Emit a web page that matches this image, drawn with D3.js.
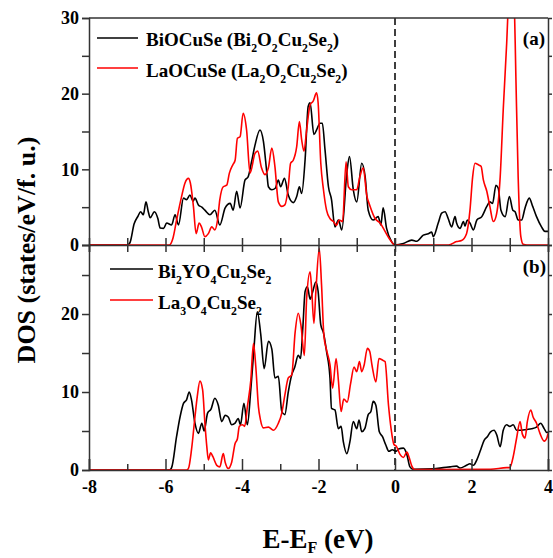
<!DOCTYPE html>
<html>
<head>
<meta charset="utf-8">
<script src="https://cdn.jsdelivr.net/npm/d3@7"></script>
<style>
  body { margin: 0; background: #fff; }
  text { font-family: "Liberation Serif", "Times New Roman", serif; font-weight: bold; fill: #000; }
</style>
</head>
<body>
<div id="plot"></div>
<script>
// ---- data (energy in eV, DOS in states/eV/f.u.) ----
var labelsA = ["BiOCuSe (Bi2O2Cu2Se2)", "LaOCuSe (La2O2Cu2Se2)"];
var labelsB = ["Bi2YO4Cu2Se2", "La3O4Cu2Se2"];
var xTicks = [-8, -6, -4, -2, 0, 2, 4];
var yTicksA = [0, 10, 20, 30];
var yTicksB = [0, 10, 20];

var eBiOCuSe = [-8,-7.0,-6.93,-6.82,-6.72,-6.65,-6.58,-6.51,-6.45,-6.4,-6.29,-6.2,-6.14,-6.05,-5.97,-5.84,-5.75,-5.66,-5.53,-5.45,-5.36,-5.28,-5.23,-5.14,-5.05,-4.97,-4.84,-4.71,-4.58,-4.44,-4.31,-4.23,-4.14,-4.05,-3.92,-3.84,-3.75,-3.66,-3.53,-3.44,-3.35,-3.31,-3.22,-3.13,-3.05,-2.99,-2.89,-2.79,-2.66,-2.57,-2.5,-2.44,-2.35,-2.27,-2.22,-2.12,-2.05,-1.96,-1.9,-1.83,-1.74,-1.66,-1.57,-1.48,-1.39,-1.26,-1.19,-1.09,-1.0,-0.87,-0.78,-0.7,-0.57,-0.44,-0.37,-0.31,-0.22,-0.09,0,0.22,0.44,0.57,0.74,0.87,0.96,1.0,1.13,1.22,1.31,1.39,1.48,1.57,1.61,1.7,1.79,1.83,1.89,1.96,2.05,2.14,2.27,2.4,2.48,2.55,2.64,2.7,2.77,2.88,2.99,3.08,3.14,3.22,3.31,3.4,3.51,3.6,3.7,3.83,3.92,4.0];
var dBiOCuSe = [0,0,0.3,2.8,3.8,4.4,4.0,5.7,4.4,3.6,4.4,3.5,2.25,2.2,2.9,2.65,4.0,2.65,6.2,6.0,6.6,5.8,6.2,5.3,5.0,4.6,4.0,4.6,2.65,4.9,5.5,4.6,7.1,4.9,8.6,9.0,11.0,13.2,15.2,13.7,9.5,7.7,7.3,7.5,8.6,7.7,8.8,6.6,5.6,6.4,7.7,6.8,11.3,18.3,18.8,14.6,15.2,16.1,16.1,12.6,7.7,6.0,2.4,3.3,2.0,9.5,11.7,7.3,5.7,10.8,9.0,4.6,3.3,3.75,2.65,4.9,2.2,0.45,0,0.2,0.65,0.5,1.3,1.5,1.7,1.1,2.9,4.2,4.4,3.5,2.4,3.75,2.9,2.2,3.1,2.5,3.3,2.9,2.0,3.3,3.75,5.1,5.7,5.5,7.9,7.5,4.6,3.75,6.4,4.6,4.4,3.3,3.3,4.9,6.2,5.1,3.75,2.4,1.8,1.8];

var eLaOCuSe = [-8,-5.9,-5.8,-5.71,-5.58,-5.49,-5.4,-5.35,-5.27,-5.2,-5.12,-5.06,-4.97,-4.88,-4.79,-4.71,-4.64,-4.58,-4.49,-4.4,-4.33,-4.24,-4.18,-4.12,-4.05,-3.97,-3.88,-3.79,-3.66,-3.59,-3.49,-3.4,-3.31,-3.22,-3.14,-3.05,-2.96,-2.88,-2.79,-2.73,-2.66,-2.57,-2.5,-2.44,-2.38,-2.31,-2.22,-2.14,-2.05,-2.01,-1.94,-1.87,-1.79,-1.7,-1.61,-1.53,-1.46,-1.37,-1.28,-1.22,-1.13,-1.0,-0.92,-0.83,-0.74,-0.65,-0.52,-0.39,-0.26,-0.13,0,1.4,1.61,1.74,1.87,1.96,2.03,2.09,2.18,2.25,2.31,2.4,2.48,2.57,2.64,2.75,2.83,2.92,3.0,3.05,3.11,3.16,3.22,3.29,3.35,3.45,4.0];
var dLaOCuSe = [0,0,1.0,3.3,6.4,8.2,8.8,8.2,5.1,1.5,2.9,2.4,1.1,1.5,2.4,2.0,3.3,6.0,7.7,7.9,9.5,10.6,11.2,14.1,14.3,17.4,15.2,9.5,12.1,12.4,10.2,9.3,10.2,12.8,10.4,5.7,5.1,5.3,7.7,10.8,11.2,13.0,16.3,13.9,12.4,15.2,18.5,19.0,20.1,18.8,10.8,7.3,4.6,3.5,3.1,2.6,3.3,3.1,11.0,7.7,7.3,7.3,9.0,10.2,6.6,5.1,3.5,2.9,1.8,0.7,0,0,0.45,0.6,1.5,4.6,9.0,10.8,10.6,10.4,8.6,7.1,5.1,3.1,3.75,9.0,17.9,26.7,36,38,34,22.3,9.0,1.1,0.1,0,0];

var eBi2YO4 = [-8,-5.9,-5.84,-5.71,-5.62,-5.53,-5.45,-5.38,-5.32,-5.23,-5.14,-5.05,-4.99,-4.9,-4.81,-4.71,-4.62,-4.53,-4.44,-4.36,-4.27,-4.18,-4.1,-4.04,-3.95,-3.86,-3.77,-3.69,-3.6,-3.51,-3.42,-3.31,-3.22,-3.14,-3.05,-2.96,-2.88,-2.79,-2.7,-2.62,-2.53,-2.47,-2.41,-2.35,-2.29,-2.22,-2.15,-2.07,-2.01,-1.94,-1.87,-1.79,-1.7,-1.66,-1.57,-1.48,-1.41,-1.35,-1.26,-1.18,-1.09,-1.0,-0.94,-0.87,-0.79,-0.7,-0.63,-0.57,-0.5,-0.41,-0.33,-0.24,-0.16,-0.07,0.03,0.09,0.22,0.31,0.39,0.48,1.0,1.26,1.44,1.61,1.7,1.87,1.96,2.05,2.14,2.24,2.33,2.42,2.5,2.59,2.66,2.75,2.83,2.92,3.0,3.09,3.18,3.31,3.44,3.57,3.7,3.81,3.9,3.97,4.0];
var dBi2YO4 = [0,0,0.3,4.3,6.8,8.55,9.0,10.0,9.0,6.0,4.7,6.0,5.0,7.3,7.8,9.2,8.3,6.2,7.0,6.8,5.8,6.0,6.6,5.8,8.55,5.8,10.3,15.4,20.3,17.4,13.0,16.5,15.5,11.8,12.0,7.5,7.1,10.0,12.2,13.2,14.7,14.3,18.2,22.9,23.5,21.9,22.9,24.1,22.9,18.6,17.6,15.2,11.8,7.9,7.7,5.3,5.6,3.6,2.1,3.6,6.2,5.3,6.4,4.9,5.3,7.1,7.5,8.8,8.3,4.9,4.3,3.2,2.4,2.6,2.4,2.7,2.8,2.0,0.4,0.1,0.15,0.3,0.4,0.5,0.25,0.6,0.8,0.6,1.3,2.6,3.8,4.3,4.9,5.1,4.5,3.0,5.1,5.8,5.6,5.8,5.1,5.1,5.2,5.3,5.5,6.0,5.3,4.8,4.9];

var eLa3O4 = [-8,-5.45,-5.4,-5.32,-5.23,-5.17,-5.1,-5.03,-4.97,-4.92,-4.88,-4.82,-4.76,-4.66,-4.58,-4.49,-4.44,-4.36,-4.27,-4.18,-4.12,-4.07,-3.99,-3.93,-3.86,-3.77,-3.7,-3.64,-3.57,-3.52,-3.44,-3.31,-3.18,-3.05,-2.96,-2.88,-2.79,-2.7,-2.61,-2.53,-2.46,-2.37,-2.31,-2.22,-2.18,-2.12,-2.07,-1.98,-1.92,-1.86,-1.79,-1.7,-1.63,-1.54,-1.48,-1.41,-1.34,-1.25,-1.16,-1.07,-1.0,-0.93,-0.87,-0.81,-0.72,-0.66,-0.6,-0.5,-0.42,-0.33,-0.26,-0.17,-0.1,-0.03,0.04,0.13,0.22,0.31,0.37,0.44,0.52,2.5,2.92,3.0,3.09,3.18,3.27,3.33,3.4,3.46,3.55,3.61,3.7,3.79,3.9,3.97,4.0];
var dLa3O4 = [0,0,0.2,2.6,6.8,9.4,11.4,10.3,6.0,3.0,1.3,2.2,1.7,0.6,0.4,2.1,1.0,0.2,1.0,3.4,4.0,5.6,5.8,5.6,8.1,11.5,16.2,13.3,8.1,6.5,5.4,5.5,5.1,6.0,7.3,9.6,11.8,12.2,17.7,20.1,18.6,14.7,22.0,25.4,23.3,18.8,22.8,28.4,23.7,17.3,15.4,13.5,10.5,14.3,11.5,7.5,9.1,8.7,11.1,13.2,12.6,13.9,12.6,13.4,15.6,15.2,13.4,11.3,14.3,14.1,13.9,8.3,5.2,3.3,3.0,2.0,1.6,2.3,1.6,0.5,0.05,0.1,0.3,0.3,1.7,4.1,6.2,4.6,4.1,6.2,7.7,6.8,6.0,4.7,3.7,4.1,4.7];

// ---- layout ----
var W = 553, H = 558;
var left = 89, right = 548, topA = 18, mid = 245, bottomB = 470;

var svg = d3.select("#plot")
  .append("svg")
    .attr("width", W)
    .attr("height", H);

var x = d3.scaleLinear().domain([-8, 4]).range([left, right]);
var yA = d3.scaleLinear().domain([0, 30]).range([mid, topA]);
var yB = d3.scaleLinear().domain([0, 28.85]).range([bottomB, mid]);

// clip paths so the tall peak is cut at the frame
var defs = svg.append("defs");
defs.append("clipPath").attr("id", "clipA")
  .append("rect").attr("x", left).attr("y", topA).attr("width", right - left).attr("height", mid - topA);
defs.append("clipPath").attr("id", "clipB")
  .append("rect").attr("x", left).attr("y", mid).attr("width", right - left).attr("height", bottomB - mid);

function zip(e, d) { return e.map(function(v, i) { return {e: v, d: d[i]}; }); }

var seriesA = [
  {name: labelsA[0], color: "#000", values: zip(eBiOCuSe, dBiOCuSe)},
  {name: labelsA[1], color: "#ff0000", values: zip(eLaOCuSe, dLaOCuSe)}
];
var seriesB = [
  {name: labelsB[0], color: "#000", values: zip(eBi2YO4, dBi2YO4)},
  {name: labelsB[1], color: "#ff0000", values: zip(eLa3O4, dLa3O4)}
];

function drawLines(series, y, clip) {
  var line = d3.line()
    .x(function(d) { return x(d.e); })
    .y(function(d) { return y(d.d); })
    .curve(d3.curveMonotoneX);
  svg.append("g")
    .attr("clip-path", "url(#" + clip + ")")
    .selectAll("path")
    .data(series)
    .enter()
    .append("path")
      .attr("d", function(d) { return line(d.values); })
      .attr("stroke", function(d) { return d.color; })
      .attr("stroke-width", 1.6)
      .attr("fill", "none")
      .attr("stroke-linejoin", "round");
}
drawLines(seriesA, yA, "clipA");
drawLines(seriesB, yB, "clipB");

// Fermi level
svg.append("line")
  .attr("x1", x(0)).attr("x2", x(0))
  .attr("y1", topA).attr("y2", bottomB)
  .attr("stroke", "#000")
  .attr("stroke-width", 1.5)
  .attr("stroke-dasharray", "7,4");

// ---- axes ----
var axisColor = "#333";
var minorX = d3.range(-8, 4.01, 1);

function styleAxis(g) {
  g.select(".domain").attr("stroke", axisColor).attr("stroke-width", 1.5);
  g.selectAll(".tick line").attr("stroke", axisColor).attr("stroke-width", 1.5);
  g.selectAll(".tick text")
    .attr("font-family", "Liberation Serif, Times New Roman, serif")
    .attr("font-weight", "bold")
    .attr("font-size", 18)
    .attr("fill", "#000");
}

// major labels only on multiples of 10, minor ticks every 5
function yLabel(ticks) {
  return function(d) { return ticks.indexOf(d) >= 0 ? String(d) : ""; };
}

// top panel left axis
svg.append("g")
  .attr("transform", "translate(" + left + ",0)")
  .call(d3.axisLeft(yA).tickValues(d3.range(0, 30.1, 5)).tickSize(7).tickFormat(yLabel(yTicksA)))
  .call(styleAxis);
// bottom panel left axis
svg.append("g")
  .attr("transform", "translate(" + left + ",0)")
  .call(d3.axisLeft(yB).tickValues(d3.range(0, 26, 5)).tickSize(7).tickFormat(yLabel(yTicksB)))
  .call(styleAxis);
// right axes
svg.append("g")
  .attr("transform", "translate(" + right + ",0)")
  .call(d3.axisRight(yA).tickValues(d3.range(5, 30, 5)).tickSize(4).tickFormat(""))
  .call(styleAxis);
svg.append("g")
  .attr("transform", "translate(" + right + ",0)")
  .call(d3.axisRight(yB).tickValues(d3.range(5, 26, 5)).tickSize(4).tickFormat(""))
  .call(styleAxis);
// bottom x axis (inward ticks)
svg.append("g")
  .attr("transform", "translate(0," + bottomB + ")")
  .call(d3.axisTop(x).tickValues(minorX).tickSize(11).tickFormat(""))
  .call(styleAxis)
  .selectAll(".tick line")
    .attr("y2", function(d) { return d % 2 === 0 ? -11 : -6; });
svg.append("g")
  .attr("transform", "translate(0," + bottomB + ")")
  .call(d3.axisBottom(x).tickValues(xTicks).tickSize(0).tickPadding(10).tickFormat(function(d) { return String(d); }))
  .call(styleAxis)
  .call(function(g) { g.select(".domain").remove(); });
// shared middle axis, ticks crossing
svg.append("g")
  .attr("transform", "translate(0," + mid + ")")
  .call(d3.axisBottom(x).tickValues(minorX).tickSize(7).tickFormat(""))
  .call(styleAxis)
  .selectAll(".tick line")
    .attr("y1", -7);
// top frame
svg.append("line")
  .attr("x1", left).attr("x2", right)
  .attr("y1", topA).attr("y2", topA)
  .attr("stroke", axisColor).attr("stroke-width", 1.5);

// ---- legends ----
// digits in a formula are written as subscripts
function formula(sel, str, size) {
  var down = false;
  str.split("").forEach(function(c) {
    var isDigit = /[0-9]/.test(c);
    if (isDigit && !down) {
      sel.append("tspan").attr("dy", size * 0.3).attr("font-size", size * 0.62).text(c);
      down = true;
    } else if (isDigit && down) {
      sel.append("tspan").attr("font-size", size * 0.62).text(c);
    } else if (!isDigit && down) {
      sel.append("tspan").attr("dy", -size * 0.3).attr("font-size", size).text(c);
      down = false;
    } else {
      sel.append("tspan").attr("font-size", size).text(c);
    }
  });
}

function legend(series, x0, x1, ys, tx, tys) {
  series.forEach(function(s, i) {
    svg.append("line")
      .attr("x1", x0).attr("x2", x1)
      .attr("y1", ys[i]).attr("y2", ys[i])
      .attr("stroke", s.color).attr("stroke-width", 1.6);
    var t = svg.append("text").attr("x", tx).attr("y", tys[i]).attr("font-size", 19);
    formula(t, s.name, 19);
  });
}
legend(seriesA, 97, 138, [38, 68], 146, [46, 77]);
legend(seriesB, 110, 153, [269, 300], 158, [278, 309]);

svg.append("text").attr("x", 545).attr("y", 45).attr("text-anchor", "end").attr("font-size", 19).text("(a)");
svg.append("text").attr("x", 546).attr("y", 273).attr("text-anchor", "end").attr("font-size", 19).text("(b)");

// ---- axis titles ----
svg.append("text")
  .attr("transform", "translate(35," + 250 + ") rotate(-90)")
  .attr("text-anchor", "middle")
  .attr("font-size", 26)
  .text("DOS (states/eV/f. u.)");

var xt = svg.append("text")
  .attr("x", 318)
  .attr("y", 548)
  .attr("text-anchor", "middle")
  .attr("font-size", 27);
xt.append("tspan").text("E-E");
xt.append("tspan").attr("dy", 5).attr("font-size", 16).text("F");
xt.append("tspan").attr("dy", -5).text(" (eV)");
</script>
</body>
</html>
